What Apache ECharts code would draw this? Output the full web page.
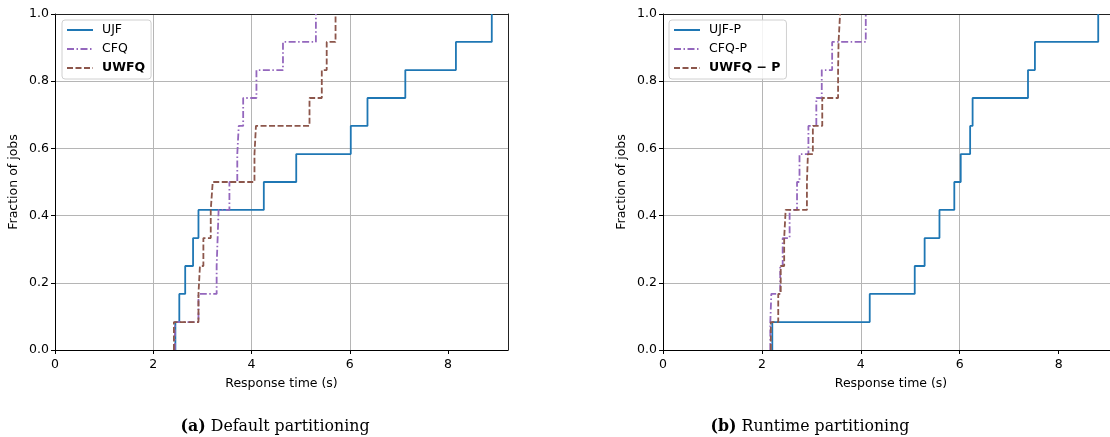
<!DOCTYPE html>
<html>
<head>
<meta charset="utf-8">
<script src="https://cdn.jsdelivr.net/npm/echarts@6/dist/echarts.min.js"></script>
<style>
  html, body { margin: 0; padding: 0; background: #fff; overflow: hidden; }
  #main { width: 1110px; height: 437px; }
</style>
</head>
<body>
<div id="main"></div>
<script>
// fraction of jobs reached after each job finishes (12 jobs)
const fractions = [0.083, 0.167, 0.25, 0.333, 0.417, 0.5, 0.583, 0.667, 0.75, 0.833, 0.917, 1.0];

// response times (s), sorted
const ujfDefault  = [2.45, 2.53, 2.65, 2.81, 2.92, 4.25, 4.91, 6.02, 6.36, 7.13, 8.16, 8.89];
const cfqDefault  = [2.44, 2.92, 3.29, 3.31, 3.33, 3.55, 3.71, 3.74, 3.83, 4.10, 4.64, 5.31];
const uwfqDefault = [2.42, 2.92, 2.95, 3.02, 3.17, 3.21, 4.06, 4.09, 5.18, 5.43, 5.53, 5.71];

const ujfRuntime  = [2.21, 4.18, 5.09, 5.29, 5.59, 5.89, 6.02, 6.21, 6.26, 7.38, 7.52, 8.80];
const cfqRuntime  = [2.17, 2.19, 2.37, 2.42, 2.56, 2.71, 2.76, 2.94, 3.10, 3.21, 3.42, 4.10];
const uwfqRuntime = [2.18, 2.33, 2.38, 2.45, 2.48, 2.91, 2.93, 3.03, 3.22, 3.54, 3.55, 3.58];

const xTicks = [0, 2, 4, 6, 8];

const namesDefault = ['UJF', 'CFQ', 'UWFQ'];
const namesRuntime = ['UJF-P', 'CFQ-P', 'UWFQ − P'];
const captions = ['Default partitioning', 'Runtime partitioning'];

const sans = 'DejaVu Sans';
const fs = 12.5;
const xMax = 9.22;
const colors = ['#1f77b4', '#9467bd', '#8c564b'];
const dashes = ['solid', [7, 2.5, 1.5, 2.5], [6, 2.5]];

let ecdf = (xs) => {
    let pts = [[xs[0], 0]];
    xs.forEach((x, i) => pts.push([x, fractions[i]]));
    return pts;
};

let xAxisFor = (idx) => ({
    gridIndex: idx,
    type: 'value',
    min: 0,
    max: xMax,
    interval: 2,
    name: 'Response time (s)',
    nameLocation: 'middle',
    nameGap: 27,
    nameTextStyle: { fontFamily: sans, fontSize: fs, color: '#000' },
    axisLine: { show: true, onZero: false, lineStyle: { color: '#000', width: 1 } },
    axisTick: { show: true, length: 4, lineStyle: { color: '#000' }, customValues: xTicks },
    axisLabel: { fontFamily: sans, fontSize: fs, color: '#000', margin: 8, customValues: xTicks },
    splitLine: { show: true, showMinLine: false, showMaxLine: false, lineStyle: { color: '#b5b5b5', width: 1 } }
});

// plain top spine
let topSpine = (idx) => ({
    gridIndex: idx,
    type: 'value',
    position: 'top',
    min: 0,
    max: xMax,
    axisLine: { show: true, onZero: false, lineStyle: { color: '#222', width: 1 } },
    axisTick: { show: false },
    axisLabel: { show: false },
    splitLine: { show: false }
});

let yAxisFor = (idx) => ({
    gridIndex: idx,
    type: 'value',
    min: 0,
    max: 1,
    interval: 0.2,
    name: 'Fraction of jobs',
    nameLocation: 'middle',
    nameGap: 35,
    nameTextStyle: { fontFamily: sans, fontSize: fs, color: '#000' },
    axisLine: { show: true, onZero: false, lineStyle: { color: '#000', width: 1 } },
    axisTick: { show: true, length: 4, lineStyle: { color: '#000' } },
    axisLabel: { fontFamily: sans, fontSize: fs, color: '#000', margin: 6, formatter: (v) => v.toFixed(1) },
    splitLine: { show: true, lineStyle: { color: '#b5b5b5', width: 1 } }
});

let rightSpine = (idx) => ({
    gridIndex: idx,
    type: 'value',
    position: 'right',
    min: 0,
    max: 1,
    axisLine: { show: true, onZero: false, lineStyle: { color: '#222', width: 1 } },
    axisTick: { show: false },
    axisLabel: { show: false },
    splitLine: { show: false }
});

let seriesFor = (names, datas, idx) => names.map((name, i) => ({
    name: name,
    type: 'line',
    xAxisIndex: idx,
    yAxisIndex: idx,
    step: 'end',
    symbol: 'none',
    data: ecdf(datas[i]),
    color: colors[i],
    lineStyle: { color: colors[i], width: 1.8, type: dashes[i] },
    animation: false
}));

let legendFor = (names, left) => ({
    data: names,
    orient: 'vertical',
    left: left,
    top: 20,
    itemWidth: 26,
    itemHeight: 14,
    itemGap: 5,
    padding: [3, 6, 4, 4],
    backgroundColor: 'rgba(255,255,255,0.85)',
    borderColor: '#d0d0d0',
    borderWidth: 1,
    borderRadius: 3,
    itemStyle: { opacity: 0 },
    formatter: (name) => name.indexOf('UWFQ') === 0 ? '{b|' + name + '}' : name,
    textStyle: {
        fontFamily: sans, fontSize: fs, lineHeight: 14, color: '#000', padding: [0, 0, 0, 4],
        rich: { b: { fontFamily: sans, fontSize: fs, lineHeight: 14, fontWeight: 'bold', color: '#000' } }
    }
});

let captionFor = (label, text, centerX) => ({
    text: '{b|' + label + '} ' + text,
    left: centerX,
    textAlign: 'center',
    top: 414,
    textStyle: {
        fontFamily: 'DejaVu Serif', fontSize: 15.8, fontWeight: 'normal', color: '#000',
        rich: { b: { fontFamily: 'DejaVu Serif', fontSize: 15.8, fontWeight: 'bold', color: '#000' } }
    }
});

var chart = echarts.init(document.getElementById('main'), null, { renderer: 'canvas' });

let option = {
    backgroundColor: '#fff',
    animation: false,
    title: [
        captionFor('(a)', captions[0], 270),
        captionFor('(b)', captions[1], 805)
    ],
    legend: [
        legendFor(namesDefault, 62),
        legendFor(namesRuntime, 669)
    ],
    grid: [
        { left: 55, top: 14, width: 453, height: 336, outerBoundsMode: 'none', show: false },
        { left: 663, top: 14, width: 456, height: 336, outerBoundsMode: 'none', show: false }
    ],
    xAxis: [xAxisFor(0), xAxisFor(1), topSpine(0), topSpine(1)],
    yAxis: [yAxisFor(0), yAxisFor(1), rightSpine(0)],
    series: [
        ...seriesFor(namesDefault, [ujfDefault, cfqDefault, uwfqDefault], 0),
        ...seriesFor(namesRuntime, [ujfRuntime, cfqRuntime, uwfqRuntime], 1)
    ]
};

chart.setOption(option);
window.addEventListener('resize', () => chart.resize());
</script>
</body>
</html>
